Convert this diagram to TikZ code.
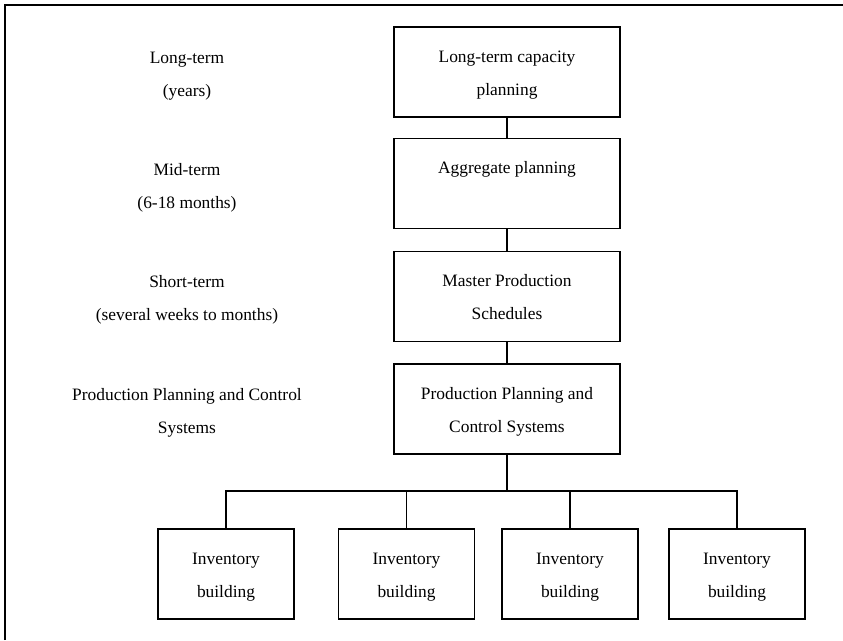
\documentclass[tikz,border=0pt]{standalone}
\usepackage{fontspec}
\setmainfont{Liberation Serif}
\begin{document}
\begin{tikzpicture}[x=1pt, y=-1pt,
  every node/.style={font=\fontsize{17.4}{33}\selectfont, align=center, inner sep=0pt},
  levelbox/.style={draw, line width=1.8pt, minimum width=226pt, minimum height=90pt},
  invbox/.style={draw, line width=1.8pt, minimum width=136pt, minimum height=90pt},
  horizon/.style={},
  link/.style={line width=1.6pt},
  frame/.style={line width=2pt}]
\useasboundingbox (0,0) rectangle (843,640);

% partial frame (top and left edges)
\coordinate (ftl) at (5,5);
\coordinate (ftr) at (843,5);
\coordinate (fbl) at (5,640);
\draw[frame] (fbl) -- (ftl) -- (ftr);

% planning horizons
\node[horizon] (h1) at (187,73) {Long-term\strut\\(years)\strut};
\node[horizon] (h2) at (187,185) {Mid-term\strut\\(6-18 months)\strut};
\node[horizon] (h3) at (187,297) {Short-term\strut\\(several weeks to months)\strut};
\node[horizon] (h4) at (187,410) {Production Planning and Control\strut\\Systems\strut};

% planning levels
\node[levelbox] (b1) at (507,72) {Long-term capacity\strut\\planning\strut};
\node[levelbox] (b2) at (507,183.5) {Aggregate planning\strut\\\strut};
\node[levelbox] (b3) at (507,296.5) {Master Production\strut\\Schedules\strut};
\node[levelbox] (b4) at (507,409) {Production Planning and\strut\\Control Systems\strut};

% inventory units
\node[invbox] (i1) at (226,574) {Inventory\strut\\building\strut};
\node[invbox] (i2) at (406.5,574) {Inventory\strut\\building\strut};
\node[invbox] (i3) at (570,574) {Inventory\strut\\building\strut};
\node[invbox] (i4) at (737,574) {Inventory\strut\\building\strut};

% connectors
\draw[link] (b1.south) -- (b2.north);
\draw[link] (b2.south) -- (b3.north);
\draw[link] (b3.south) -- (b4.north);
\coordinate (bus) at (507,491);
\draw[link] (b4.south) -- (bus);
\draw[link] (i1.north) |- (bus) -| (i4.north);
\draw[link] (i2.north) -- (i2.north |- bus);
\draw[link] (i3.north) -- (i3.north |- bus);
\end{tikzpicture}
\end{document}
